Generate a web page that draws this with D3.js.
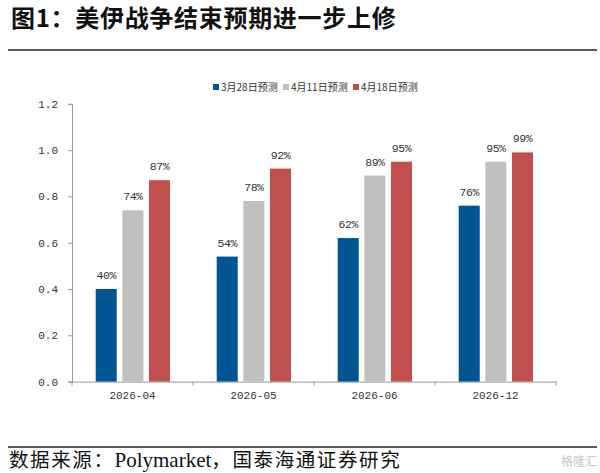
<!DOCTYPE html>
<html>
<head>
<meta charset="utf-8">
<title>美伊战争结束预期进一步上修</title>
<style>
  body { margin: 0; background: #fff; }
  svg { display: block; }
  .tick text { font-family: "Liberation Mono", "DejaVu Sans Mono", monospace; font-size: 11px; fill: #333; }
  .axis path, .axis line { stroke: #999; }
  .lbl { font-family: "Liberation Mono", monospace; font-size: 11.5px; fill: #333; letter-spacing: -0.5px; }
  .legend text { font-family: "Noto Sans CJK SC", sans-serif; font-size: 10px; fill: #333; }
</style>
</head>
<body>
<svg id="chart" width="600" height="473"></svg>
<script src="https://d3js.org/d3.v7.min.js"></script>
<script>
  // data
  var categories = ["2026-04", "2026-05", "2026-06", "2026-12"];
  var seriesNames = ["3月28日预测", "4月11日预测", "4月18日预测"];
  var mar28 = [0.40, 0.54, 0.62, 0.76];
  var apr11 = [0.74, 0.78, 0.89, 0.95];
  var apr18 = [0.87, 0.92, 0.95, 0.99];
  var yTicks = [0, 0.2, 0.4, 0.6, 0.8, 1.0, 1.2];

  var colors = ["#005595", "#c0c0c0", "#c0504d"];
  var seriesValues = [mar28, apr11, apr18];

  var svg = d3.select("#chart");

  // title + top rule
  svg.append("text")
    .attr("x", 11).attr("y", 27)
    .attr("font-family", "Noto Sans CJK SC")
    .attr("font-weight", 700)
    .attr("font-size", 24)
    .attr("letter-spacing", 0.7)
    .attr("fill", "#111")
    .text("图1：美伊战争结束预期进一步上修");

  svg.append("line")
    .attr("x1", 8).attr("x2", 597).attr("y1", 50).attr("y2", 50)
    .attr("stroke", "#222").attr("stroke-width", 1.5);

  // scales
  var x0 = d3.scaleBand().domain(categories).range([72, 556]);
  var x1 = d3.scaleBand().domain(seriesNames)
    .range([23.7, 98]).paddingInner(0.21);
  var y = d3.scaleLinear().domain([0, 1.2]).range([381.6, 103.8]);

  // axes
  svg.append("g")
    .attr("class", "axis")
    .attr("transform", "translate(72,0)")
    .call(d3.axisLeft(y).tickValues(yTicks).tickSize(4).tickPadding(10)
      .tickFormat(d3.format(".1f")));

  var xa = svg.append("g")
    .attr("class", "axis")
    .attr("transform", "translate(0," + y(0) + ")")
    .call(d3.axisBottom(x0).tickSize(0).tickPadding(10));
  xa.selectAll(".tick text").attr("font-size", 10.5);
  // category boundary ticks
  xa.selectAll(".sep")
    .data(categories.concat(["end"]))
    .enter().append("line")
    .attr("class", "sep")
    .attr("x1", function (d, i) { return 72 + i * x0.step(); })
    .attr("x2", function (d, i) { return 72 + i * x0.step(); })
    .attr("y1", 0).attr("y2", 4)
    .attr("stroke", "#999");

  // bars
  var rows = [];
  categories.forEach(function (c, i) {
    seriesNames.forEach(function (s, j) {
      rows.push({ cat: c, series: s, j: j, value: seriesValues[j][i] });
    });
  });

  var bars = svg.append("g");
  bars.selectAll("rect")
    .data(rows)
    .enter().append("rect")
    .attr("x", function (d) { return x0(d.cat) + x1(d.series); })
    .attr("y", function (d) { return y(d.value); })
    .attr("width", x1.bandwidth())
    .attr("height", function (d) { return y(0) - y(d.value); })
    .attr("fill", function (d) { return colors[d.j]; });

  bars.selectAll(".lbl")
    .data(rows)
    .enter().append("text")
    .attr("class", "lbl")
    .attr("text-anchor", "middle")
    .attr("x", function (d) { return x0(d.cat) + x1(d.series) + x1.bandwidth() / 2; })
    .attr("y", function (d) { return y(d.value) - 10; })
    .text(function (d) { return Math.round(d.value * 100) + "%"; });

  // legend
  var legend = svg.append("g").attr("class", "legend")
    .attr("transform", "translate(213,87)");
  seriesNames.forEach(function (s, j) {
    var item = legend.append("g").attr("transform", "translate(" + (j * 70) + ",0)");
    item.append("rect").attr("x", 0).attr("y", -3).attr("width", 6).attr("height", 6)
      .attr("fill", colors[j]);
    item.append("text").attr("x", 8).attr("y", 4).text(s);
  });

  // bottom rule + source
  svg.append("line")
    .attr("x1", 8).attr("x2", 597).attr("y1", 447).attr("y2", 447)
    .attr("stroke", "#222").attr("stroke-width", 1.5);

  var src = svg.append("text")
    .attr("x", 9).attr("y", 467)
    .attr("font-family", "Noto Sans CJK SC")
    .attr("font-size", 19.5)
    .attr("fill", "#111");
  src.append("tspan").attr("letter-spacing", 1.6).text("数据来源：");
  src.append("tspan").attr("font-family", "Liberation Serif").attr("font-size", 21).text("Polymarket");
  src.append("tspan").attr("letter-spacing", 1.6).text("，国泰海通证券研究");

  // watermark
  svg.append("text")
    .attr("x", 597).attr("y", 466)
    .attr("text-anchor", "end")
    .attr("font-family", "Noto Sans CJK SC")
    .attr("font-size", 12)
    .attr("fill", "#c8c8c8")
    .text("格隆汇");
</script>
</body>
</html>
